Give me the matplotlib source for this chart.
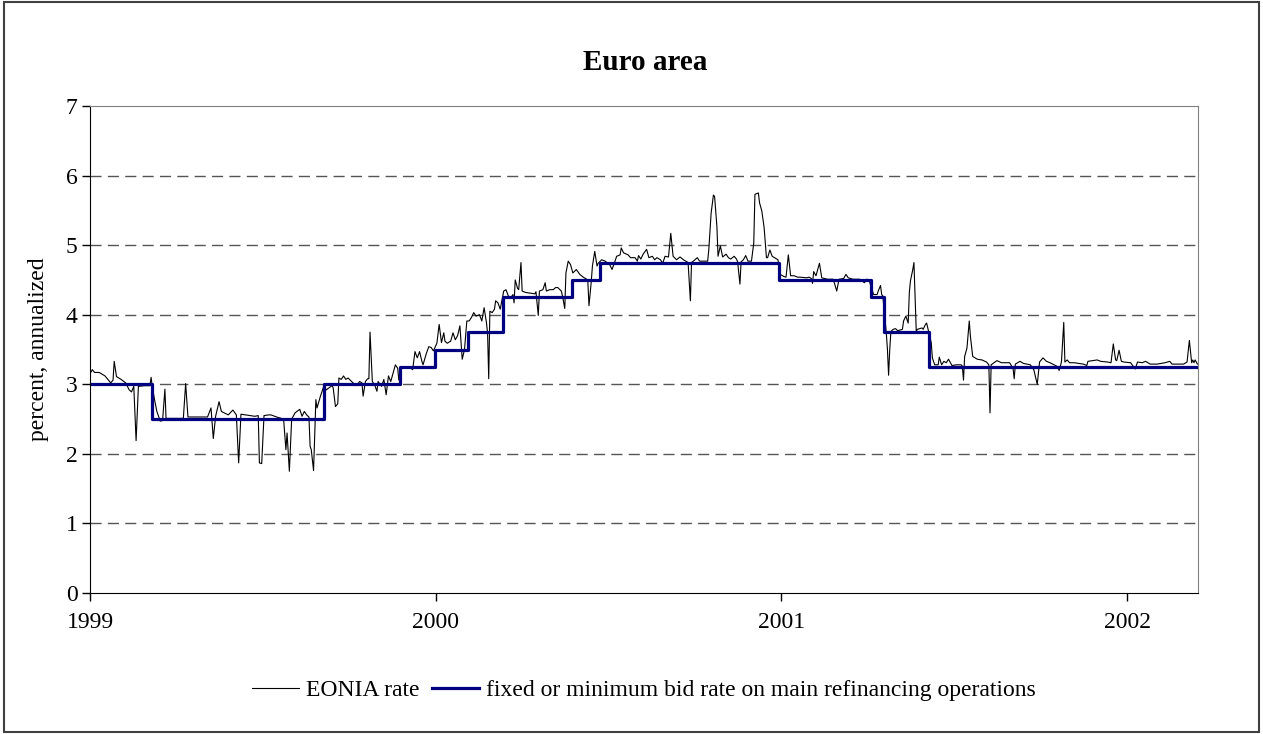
import matplotlib
matplotlib.use('Agg')
import matplotlib.pyplot as plt
from matplotlib.patches import Rectangle

plt.rcParams['font.family'] = ['Liberation Serif', 'DejaVu Serif']

# x axis = business-day observation number starting in January 1999
year_ticks = [0, 300, 600, 900]
year_labels = ['1999', '2000', '2001', '2002']
last_obs = 961.5

# fixed / minimum bid rate: observation where each rate starts, and the rate
mro_start = [0, 54, 203, 269, 299, 328, 358, 418, 443, 598, 678, 689, 728, 962]
mro_rate = [3.0, 2.5, 3.0, 3.25, 3.5, 3.75, 4.25, 4.5, 4.75, 4.5, 4.25, 3.75, 3.25, 3.25]

# EONIA
eonia_obs = [
    0, 2, 4, 8, 13, 18, 20, 21, 23, 27, 31, 34, 36, 38, 40, 42, 47, 52, 53, 54,
    56, 58, 61, 63, 65, 66, 81, 83, 85, 102, 105, 107, 109, 112, 114, 120, 124, 127, 129, 131,
    143, 146, 147, 149, 151, 155, 157, 162, 168, 170, 171, 173, 175, 178, 182, 184, 186, 188, 190, 191,
    192, 194, 196, 197, 200, 201, 203, 205, 210, 211, 213, 215, 216, 218, 220, 222, 224, 227, 231, 234,
    236, 237, 239, 241, 242, 243, 245, 247, 249, 250, 253, 255, 257, 259, 261, 263, 265, 267, 268, 270,
    277, 280, 282, 284, 286, 288, 289, 292, 294, 296, 298, 301, 303, 305, 307, 308, 310, 313, 315, 317,
    319, 321, 323, 325, 327, 329, 331, 333, 335, 338, 340, 342, 344, 345, 346, 347, 349, 351, 352, 354,
    356, 359, 361, 363, 365, 367, 368, 369, 371, 372, 374, 375, 378, 382, 386, 387, 389, 390, 393, 395,
    396, 399, 402, 404, 406, 409, 410, 412, 413, 415, 417, 419, 422, 425, 428, 431, 432, 433, 435, 436,
    438, 440, 441, 444, 447, 451, 453, 455, 457, 460, 461, 463, 467, 469, 473, 475, 476, 478, 480, 483,
    485, 488, 490, 492, 495, 497, 499, 502, 504, 506, 509, 512, 515, 518, 519, 521, 522, 525, 527, 529,
    536, 537, 539, 541, 542, 544, 545, 547, 549, 552, 554, 556, 559, 561, 562, 564, 565, 567, 569, 571,
    574, 576, 577, 580, 581, 583, 585, 587, 588, 590, 592, 594, 597, 599, 602, 604, 606, 608, 611, 614,
    616, 622, 624, 626, 627, 628, 630, 633, 635, 640, 645, 648, 650, 654, 656, 658, 662, 668, 672, 674,
    676, 680, 683, 684, 686, 687, 688, 691, 692, 693, 694, 695, 697, 699, 701, 705, 706, 708, 710, 711,
    712, 714, 715, 717, 718, 722, 723, 725, 726, 727, 730, 731, 733, 736, 737, 739, 741, 743, 745, 748,
    752, 756, 757, 758, 759, 761, 763, 764, 766, 770, 774, 778, 780, 781, 782, 787, 791, 798, 801, 802,
    803, 807, 810, 816, 819, 822, 824, 827, 830, 833, 839, 841, 843, 845, 846, 848, 850, 854, 862, 865,
    866, 870, 874, 877, 883, 886, 888, 890, 891, 893, 895, 897, 903, 907, 909, 913, 916, 920, 926, 933,
    937, 939, 949, 952, 954, 956, 957, 958, 959, 961, 962,
]
eonia_rate = [
    3.15, 3.21, 3.17, 3.17, 3.12, 3.02, 3.06, 3.33, 3.11, 3.07, 3.02, 2.92, 2.89, 2.97, 2.19, 2.97, 2.98, 2.98, 3.10, 2.97,
    2.78, 2.61, 2.47, 2.48, 2.93, 2.51, 2.51, 3.01, 2.53, 2.53, 2.66, 2.22, 2.54, 2.75, 2.61, 2.56, 2.63, 2.56, 1.87, 2.57,
    2.54, 2.55, 1.87, 1.86, 2.55, 2.56, 2.56, 2.53, 2.50, 2.06, 2.30, 1.75, 2.50, 2.59, 2.64, 2.54, 2.61, 2.56, 2.53, 2.11,
    2.06, 1.76, 2.78, 2.66, 2.83, 2.88, 2.98, 2.92, 2.98, 2.95, 2.68, 2.72, 3.09, 3.07, 3.12, 3.07, 3.09, 3.04, 2.98, 3.04,
    3.02, 2.83, 3.04, 3.08, 3.08, 3.75, 3.04, 2.99, 2.90, 3.04, 2.97, 3.07, 2.85, 3.12, 3.04, 3.16, 3.28, 3.23, 3.06, 3.25,
    3.25, 3.21, 3.47, 3.38, 3.47, 3.33, 3.28, 3.45, 3.54, 3.53, 3.48, 3.59, 3.86, 3.60, 3.74, 3.62, 3.59, 3.62, 3.74, 3.64,
    3.70, 3.84, 3.36, 3.50, 3.91, 3.91, 3.96, 4.03, 3.98, 4.00, 3.91, 4.10, 3.89, 3.74, 3.08, 4.05, 4.03, 4.08, 4.20, 4.17,
    4.08, 4.34, 4.36, 4.27, 4.24, 4.29, 4.17, 4.50, 4.38, 4.36, 4.75, 4.34, 4.32, 4.31, 4.30, 4.33, 3.99, 4.34, 4.36, 4.46,
    4.34, 4.36, 4.36, 4.39, 4.39, 4.34, 4.27, 4.09, 4.60, 4.77, 4.72, 4.60, 4.65, 4.58, 4.54, 4.51, 4.48, 4.13, 4.48, 4.70,
    4.91, 4.70, 4.74, 4.79, 4.77, 4.72, 4.65, 4.74, 4.84, 4.86, 4.96, 4.89, 4.86, 4.82, 4.82, 4.77, 4.85, 4.80, 4.87, 4.94,
    4.82, 4.84, 4.79, 4.82, 4.79, 4.74, 4.84, 4.83, 5.17, 4.84, 4.79, 4.83, 4.79, 4.76, 4.75, 4.20, 4.75, 4.79, 4.82, 4.77,
    4.77, 4.94, 5.46, 5.72, 5.70, 5.27, 4.84, 4.99, 4.83, 4.87, 4.82, 4.80, 4.84, 4.80, 4.76, 4.44, 4.76, 4.79, 4.85, 4.77,
    4.77, 5.03, 5.73, 5.75, 5.61, 5.49, 5.25, 4.82, 4.82, 4.93, 4.84, 4.82, 4.79, 4.58, 4.55, 4.54, 4.86, 4.56, 4.56, 4.54,
    4.54, 4.53, 4.54, 4.52, 4.45, 4.62, 4.56, 4.74, 4.53, 4.51, 4.51, 4.34, 4.51, 4.52, 4.58, 4.53, 4.51, 4.51, 4.46, 4.51,
    4.50, 4.29, 4.29, 4.34, 4.42, 4.29, 4.27, 3.74, 3.50, 3.13, 3.50, 3.76, 3.79, 3.80, 3.77, 3.79, 3.91, 3.98, 3.88, 4.32,
    4.49, 4.65, 4.75, 3.76, 3.79, 3.81, 3.79, 3.86, 3.88, 3.81, 3.60, 3.38, 3.28, 3.28, 3.39, 3.28, 3.33, 3.31, 3.36, 3.27,
    3.28, 3.28, 3.26, 3.06, 3.40, 3.52, 3.91, 3.69, 3.40, 3.36, 3.35, 3.32, 3.28, 2.59, 3.28, 3.34, 3.31, 3.31, 3.23, 3.08,
    3.29, 3.33, 3.30, 3.28, 3.21, 3.00, 3.32, 3.38, 3.33, 3.31, 3.26, 3.20, 3.32, 3.89, 3.32, 3.35, 3.31, 3.31, 3.29, 3.27,
    3.33, 3.34, 3.35, 3.33, 3.32, 3.31, 3.58, 3.35, 3.34, 3.49, 3.33, 3.32, 3.31, 3.22, 3.32, 3.31, 3.33, 3.29, 3.29, 3.31,
    3.33, 3.29, 3.29, 3.32, 3.63, 3.31, 3.35, 3.31, 3.35, 3.29, 3.29,
]

fig = plt.figure(figsize=(12.63, 7.34), dpi=100)
ax = fig.add_axes([90 / 1263, 1 - 593 / 734, 1108 / 1263, 487 / 734])

ax.plot(eonia_obs, eonia_rate, color='black', linewidth=0.8, label='EONIA rate')
ax.plot(mro_start, mro_rate, color='#000080', linewidth=2.3, drawstyle='steps-post',
        label='fixed or minimum bid rate on main refinancing operations')

ax.set_xlim(0, last_obs)
ax.set_ylim(0, 7)
ax.set_yticks(range(0, 8))
ax.set_xticks(year_ticks)
ax.set_xticklabels(year_labels)
ax.tick_params(axis='both', direction='out', length=6, width=1, labelsize=17, color='black')
ax.tick_params(axis='x', pad=8)
ax.tick_params(axis='y', pad=3)

for v in range(1, 7):
    ax.axhline(v, color='#555555', linewidth=1, linestyle=(0, (8, 4.5)), zorder=0)

for side in ['top', 'right']:
    ax.spines[side].set_color('#808080')
for side in ['left', 'bottom']:
    ax.spines[side].set_color('black')

ax.set_ylabel('percent, annualized', fontsize=17, labelpad=12)
fig.text(645 / 1263, 1 - 63 / 734, 'Euro area', ha='center', va='center',
         fontsize=21, fontweight='bold')

fig.legend(loc='center', bbox_to_anchor=(644 / 1263, 1 - 690 / 734), ncol=2, frameon=False,
           fontsize=17, handlelength=2.0, handletextpad=0.3, columnspacing=0.5)

fig.patches.append(Rectangle((0.003, 0.003), 0.994, 0.994, transform=fig.transFigure,
                             fill=False, edgecolor='#404040', linewidth=1.5))

fig.savefig('out.png', dpi=100)
